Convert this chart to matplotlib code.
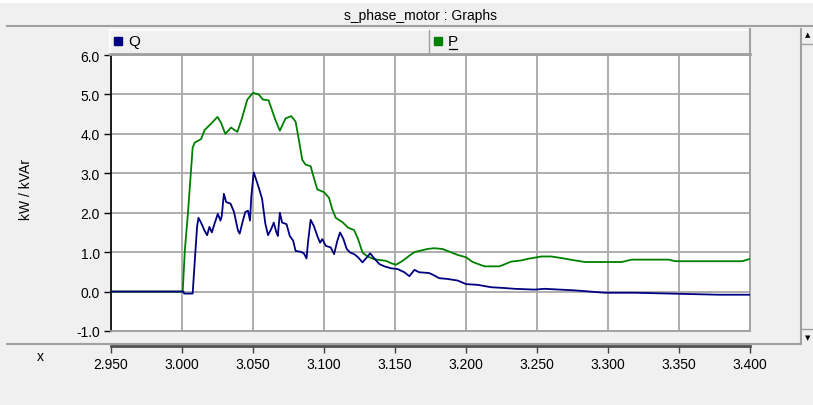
import matplotlib
matplotlib.use('Agg')
import matplotlib.pyplot as plt
from matplotlib.patches import Rectangle
from matplotlib.lines import Line2D
from matplotlib.ticker import FixedLocator, FormatStrFormatter

plt.rcParams['font.family'] = ['Liberation Sans', 'DejaVu Sans']

# ---------------- data ----------------
p_time = [2.950, 3.0005, 3.002, 3.004, 3.006, 3.0075, 3.009, 3.0135, 3.016, 3.0205,
          3.025, 3.0275, 3.0305, 3.0345, 3.039, 3.042, 3.046, 3.050, 3.054, 3.057,
          3.061, 3.0658, 3.0689, 3.0729, 3.0769, 3.080, 3.0823, 3.0847, 3.087, 3.0906,
          3.0929, 3.0953, 3.100, 3.1035, 3.1059, 3.1083, 3.113, 3.117, 3.1212, 3.124,
          3.1271, 3.1307, 3.1354, 3.1436, 3.1472, 3.1507, 3.1554, 3.1601, 3.1637, 3.167,
          3.1729, 3.1776, 3.1835, 3.187, 3.1941, 3.200, 3.2047, 3.213, 3.2236, 3.2318,
          3.2389, 3.2436, 3.2531, 3.2601, 3.2672, 3.2767, 3.2837, 3.3097, 3.3167, 3.3427,
          3.3474, 3.3946, 3.400]
p_values = [0.0, 0.0, 1.05, 1.9, 2.9, 3.65, 3.78, 3.87, 4.1, 4.26,
            4.43, 4.28, 4.0, 4.16, 4.05, 4.37, 4.87, 5.04, 5.0, 4.87,
            4.85, 4.35, 4.08, 4.39, 4.45, 4.31, 3.85, 3.34, 3.22, 3.18,
            2.88, 2.59, 2.52, 2.38, 2.08, 1.87, 1.76, 1.62, 1.56, 1.33,
            0.99, 0.89, 0.82, 0.78, 0.72, 0.68, 0.78, 0.91, 1.0, 1.03,
            1.08, 1.1, 1.08, 1.03, 0.93, 0.87, 0.75, 0.64, 0.64, 0.76,
            0.79, 0.83, 0.89, 0.89, 0.85, 0.79, 0.75, 0.75, 0.81, 0.81,
            0.77, 0.77, 0.83]

q_time = [2.950, 3.001, 3.0015, 3.0075, 3.0092, 3.0106, 3.0116, 3.0134, 3.0158, 3.0177,
          3.0193, 3.021, 3.0229, 3.0252, 3.0271, 3.028, 3.0295, 3.0311, 3.0342, 3.0366,
          3.0394, 3.0406, 3.0429, 3.0446, 3.0465, 3.0479, 3.0488, 3.0505, 3.0524, 3.0547,
          3.0564, 3.0587, 3.0606, 3.063, 3.0646, 3.0665, 3.0675, 3.0689, 3.0705, 3.0736,
          3.0759, 3.0783, 3.080, 3.0835, 3.0858, 3.0877, 3.0887, 3.0906, 3.0929, 3.0953,
          3.0972, 3.0988, 3.1012, 3.1047, 3.1071, 3.1094, 3.1113, 3.1137, 3.116, 3.1184,
          3.1212, 3.124, 3.1271, 3.1295, 3.1325, 3.1354, 3.1389, 3.1425, 3.1472, 3.1519,
          3.1566, 3.1601, 3.1637, 3.167, 3.174, 3.1776, 3.1811, 3.187, 3.1941, 3.200,
          3.2083, 3.2177, 3.2271, 3.2342, 3.2484, 3.2554, 3.2767, 3.2979, 3.3191, 3.3545,
          3.3781, 3.400]
q_values = [0.0, 0.0, -0.05, -0.05, 0.88, 1.64, 1.87, 1.75, 1.55, 1.43,
            1.64, 1.5, 1.72, 1.97, 1.8, 1.92, 2.48, 2.27, 2.23, 2.02,
            1.55, 1.47, 1.8, 2.02, 2.05, 1.8, 2.4, 3.02, 2.82, 2.56,
            2.35, 1.72, 1.43, 1.6, 1.75, 1.5, 1.41, 2.0, 1.75, 1.71,
            1.41, 1.29, 1.03, 1.01, 0.97, 0.84, 1.24, 1.82, 1.66, 1.41,
            1.24, 1.33, 1.16, 1.12, 0.95, 1.29, 1.5, 1.33, 1.08, 0.99,
            0.95, 0.87, 0.74, 0.84, 0.97, 0.84, 0.7, 0.64, 0.59, 0.57,
            0.49, 0.39, 0.55, 0.49, 0.47, 0.41, 0.34, 0.32, 0.28, 0.19,
            0.17, 0.11, 0.09, 0.07, 0.05, 0.07, 0.03, -0.03, -0.03, -0.06,
            -0.08, -0.08]

x_ticks = [2.950, 3.000, 3.050, 3.100, 3.150, 3.200, 3.250, 3.300, 3.350, 3.400]
y_ticks = [-1.0, 0.0, 1.0, 2.0, 3.0, 4.0, 5.0, 6.0]
title = 's_phase_motor : Graphs'
y_label = 'kW / kVAr'
series_names = ['Q', 'P']
series_colors = ['#000080', '#008000']

# ---------------- figure ----------------
W, H = 813, 406
fig = plt.figure(figsize=(W / 100, H / 100), dpi=100, facecolor='#F0F0F0')

def fx(px):
    return px / W

def fy(py):
    return 1 - py / H

GRAY = '#A0A0A0'

# top white strip and title bar
fig.patches.append(Rectangle((0, fy(4)), 1, 4 / H, transform=fig.transFigure,
                             facecolor='white', edgecolor='none'))
fig.add_artist(Line2D([fx(7), 1], [fy(27), fy(27)], color=GRAY, lw=1.5))
fig.text(fx(420), fy(16), title, ha='center', va='center', fontsize=10)

# main axes
ax = fig.add_axes([fx(111), fy(332), fx(750) - fx(111), fy(56) - fy(332)])
ax.set_facecolor('white')
ax.plot(p_time, p_values, color=series_colors[1], lw=1.3, zorder=3)
ax.plot(q_time, q_values, color=series_colors[0], lw=1.3, zorder=4)
ax.set_xlim(x_ticks[0], x_ticks[-1])
ax.set_ylim(y_ticks[0], y_ticks[-1])
ax.xaxis.set_major_locator(FixedLocator(x_ticks))
ax.yaxis.set_major_locator(FixedLocator(y_ticks))
ax.yaxis.set_major_formatter(FormatStrFormatter('%.1f'))
ax.grid(True, color='#A8A8A8', lw=1.3, zorder=1)
ax.set_axisbelow(True)
ax.tick_params(axis='x', bottom=False, labelbottom=False)
ax.tick_params(axis='y', direction='out', length=5, width=1, color='black',
               labelsize=10, pad=3)
ax.spines['left'].set_color('black')
ax.spines['left'].set_linewidth(1.2)
ax.spines['top'].set_visible(False)
for s in ('right', 'bottom'):
    ax.spines[s].set_color(GRAY)
    ax.spines[s].set_linewidth(1.3)
fig.text(fx(26), fy(190), y_label, rotation=90, ha='center', va='center', fontsize=10)

# bottom x axis
axx = fig.add_axes([fx(111), fy(347), fx(750) - fx(111), 0.0001])
axx.set_xlim(x_ticks[0], x_ticks[-1])
axx.patch.set_visible(False)
axx.xaxis.set_major_locator(FixedLocator(x_ticks))
axx.xaxis.set_major_formatter(FormatStrFormatter('%.3f'))
axx.set_yticks([])
for s in ('left', 'right', 'top'):
    axx.spines[s].set_visible(False)
axx.spines['bottom'].set_color('#505050')
axx.spines['bottom'].set_linewidth(2)
axx.tick_params(axis='x', direction='out', length=5, width=1, color='#404040',
                labelsize=10, pad=3)
fig.text(fx(40), fy(357), 'x', ha='center', va='center', fontsize=10)
fig.add_artist(Line2D([fx(7), fx(800)], [fy(345), fy(345)], color=GRAY, lw=1.5))

# legend bar
fig.patches.append(Rectangle((fx(110), fy(55)), fx(750) - fx(110), 24 / H,
                             transform=fig.transFigure, facecolor='#F0F0F0',
                             edgecolor='none'))
fig.add_artist(Line2D([fx(110), fx(749)], [fy(31), fy(31)], color='white', lw=1.2))
fig.add_artist(Line2D([fx(110), fx(110)], [fy(31), fy(55)], color='white', lw=1.2))
fig.add_artist(Line2D([fx(110), fx(750)], [fy(54.5), fy(54.5)], color=GRAY, lw=2))
fig.add_artist(Line2D([fx(749.5), fx(749.5)], [fy(30), fy(56)], color=GRAY, lw=1.5))
fig.add_artist(Line2D([fx(428.5), fx(428.5)], [fy(31), fy(54)], color=GRAY, lw=1))
fig.add_artist(Line2D([fx(118)], [fy(41.5)], marker='s', markersize=5.5,
                      color=series_colors[0], lw=0))
fig.text(fx(128), fy(42), series_names[0], ha='left', va='center', fontsize=11)
fig.add_artist(Line2D([fx(438)], [fy(41.5)], marker='s', markersize=5.5,
                      color=series_colors[1], lw=0))
fig.text(fx(448), fy(42), series_names[1], ha='left', va='center', fontsize=11)
fig.add_artist(Line2D([fx(448.5), fx(457)], [fy(50), fy(50)], color='black', lw=0.9))

# right scrollbar
fig.add_artist(Line2D([fx(800.5), fx(800.5)], [fy(30), fy(345)], color=GRAY, lw=1.5))
fig.add_artist(Line2D([fx(801), 1], [fy(45), fy(45)], color=GRAY, lw=1))
fig.add_artist(Line2D([fx(801), 1], [fy(330), fy(330)], color=GRAY, lw=1))
fig.text(fx(808), fy(35), '\u25B2', ha='center', va='center', fontsize=5,
         family='DejaVu Sans')
fig.text(fx(808), fy(338), '\u25BC', ha='center', va='center', fontsize=5,
         family='DejaVu Sans')

fig.savefig('out.png', dpi=100, facecolor=fig.get_facecolor())
